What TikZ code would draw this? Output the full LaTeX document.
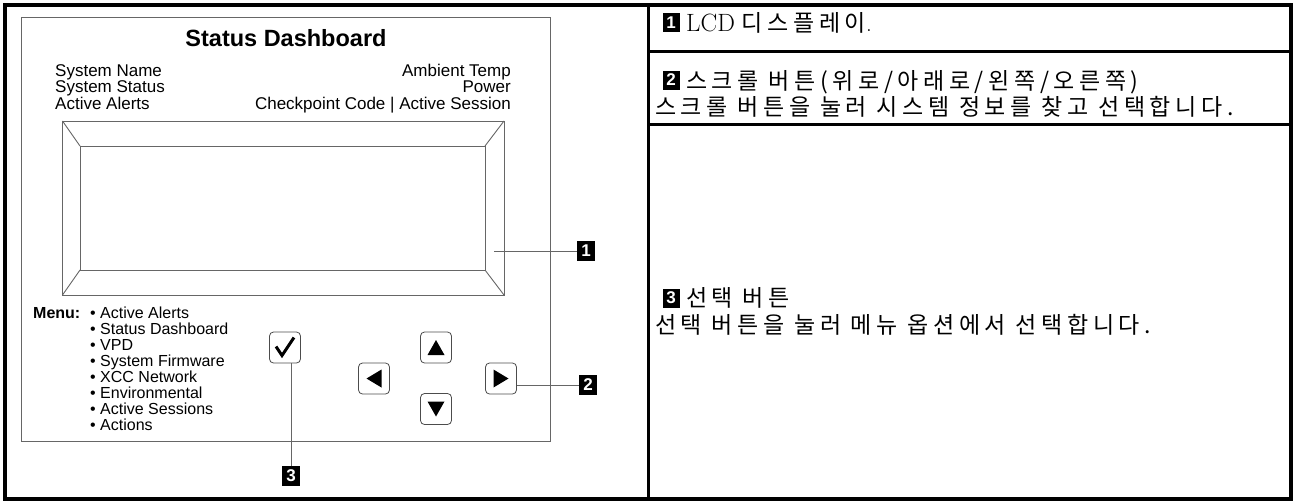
\documentclass[tikz,border=0pt]{standalone}
\usepackage{fontspec}
\setsansfont{Liberation Sans}
\newfontfamily\cjk[LetterSpace=20]{Noto Sans CJK KR}
\begin{document}
\begin{tikzpicture}[x=1pt,y=-1pt,
		thin line/.style = {draw=black!60,line width=0.9pt},
		btn/.style = {draw=black!70,line width=0.8pt,rounded corners=4pt,minimum width=31pt,minimum height=31pt,inner sep=0pt},
		badge/.style = {fill=black,text=white,font=\sffamily\bfseries\fontsize{17}{17}\selectfont,minimum width=18pt,minimum height=20pt,inner sep=0pt},
		info/.style = {font=\sffamily\fontsize{17}{17}\selectfont,inner sep=0pt},
		menuitem/.style = {font=\sffamily\fontsize{16}{16}\selectfont,inner sep=0pt,anchor=base west},
		desc/.style = {font=\fontsize{23}{23}\selectfont,inner sep=0pt,anchor=base west}]
	\useasboundingbox (0,0) rectangle (1293,501);
	\draw[line width=3.5pt] (5,5) rectangle (1291,499);
	\draw[line width=3pt] (648.5,5) -- (648.5,499);
	\draw[line width=3pt] (648.5,51.5) -- (1291,51.5);
	\draw[line width=3pt] (648.5,124.5) -- (1291,124.5);
	\draw[thin line] (21.7,17.3) rectangle (550,441);
	\node[font=\sffamily\bfseries\fontsize{23.5}{23.5}\selectfont,anchor=base,inner sep=0pt] (title) at (286,46) {Status Dashboard};
	\node[info,anchor=base west] (name) at (55,76) {System Name};
	\node[info,anchor=base west] (status) at (55,92.5) {System Status};
	\node[info,anchor=base west] (alerts) at (55,109) {Active Alerts};
	\node[info,anchor=base east] (temp) at (511,76) {Ambient Temp};
	\node[info,anchor=base east] (power) at (511,92.5) {Power};
	\node[info,anchor=base east] (code) at (511,109) {Checkpoint Code | Active Session};
	\draw[thin line] (62.5,121) rectangle (504,295);
	\draw[thin line] (80,146) rectangle (485,270);
	\draw[thin line] (62.5,121) -- (80,146) (504,121) -- (485,146) (62.5,295) -- (80,270) (504,295) -- (485,270);
	\coordinate (lcd) at (494,251);
	\node[badge] (b1) at (586,251) {1};
	\draw[thin line] (lcd) -- (b1);
	\node[font=\sffamily\bfseries\fontsize{16}{16}\selectfont,inner sep=0pt,anchor=base west] (menu) at (33,318.5) {Menu:};
	\foreach \entry [count=\i from 0] in {Active Alerts,Status Dashboard,VPD,System Firmware,XCC Network,Environmental,Active Sessions,Actions}
		\node[menuitem] (m\i) at (90,318.5+16.05*\i) {\textbullet\ \entry};
	\node[btn] (check) at (285,347.5) {};
	\node[btn] (up) at (436,347.5) {};
	\node[btn] (left) at (374,378.5) {};
	\node[btn] (right) at (501,378.5) {};
	\node[btn] (down) at (436,409) {};
	\draw[line width=3pt,line join=miter] (check) ++(-9,-1) -- ++(6,9) -- ++(12,-18);
	\fill (up) ++(0,-7.5) -- ++(8.5,15) -- ++(-17,0) -- cycle;
	\fill (down) ++(0,7.5) -- ++(8.5,-15) -- ++(-17,0) -- cycle;
	\fill (left) ++(-7.5,0) -- ++(15,-9) -- ++(0,18) -- cycle;
	\fill (right) ++(7.5,0) -- ++(-15,-9) -- ++(0,18) -- cycle;
	\node[badge] (b2) at (588,385) {2};
	\draw[thin line] (b2.west) -- (b2.west -| right.east);
	\node[badge] (b3) at (291,476) {3};
	\draw[thin line] (b3.north) -- (b3.north |- check.south);
	\node[badge,minimum width=17pt,minimum height=19pt] (d1) at (671,22.5) {1};
	\node[desc] (t1) at (686,31) {{\fontsize{25}{25}\selectfont LCD} {\cjk 디스플레이}.};
	\node[badge,minimum width=17pt,minimum height=19pt] (d2) at (671,80) {2};
	\node[desc] (t2) at (686,89) {\cjk 스크롤 버튼(위로/아래로/왼쪽/오른쪽)};
	\node[desc] (t2b) at (655,115) {\cjk 스크롤 버튼을 눌러 시스템 정보를 찾고 선택합니다.};
	\node[badge,minimum width=17pt,minimum height=19pt] (d3) at (671,298) {3};
	\node[desc] (t3) at (686,306.5) {\cjk 선택 버튼};
	\node[desc] (t3b) at (655,333) {\cjk 선택 버튼을 눌러 메뉴 옵션에서 선택합니다.};
\end{tikzpicture}
\end{document}
